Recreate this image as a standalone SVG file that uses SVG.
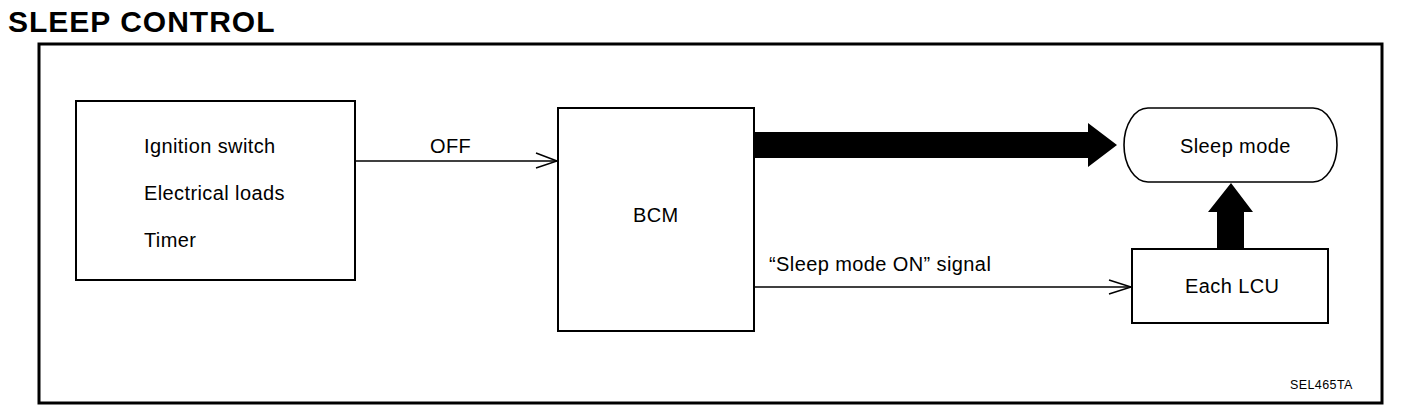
<svg xmlns="http://www.w3.org/2000/svg" width="1408" height="414" viewBox="0 0 1408 414">
<style>
.box{fill:#fff;stroke:#000;stroke-width:2}
.t{font-family:"Liberation Sans",Arial,sans-serif;font-size:20px;letter-spacing:0.4px;fill:#000}
.line{fill:none;stroke:#000;stroke-width:1.5}
.chev{fill:none;stroke:#000;stroke-width:1.5}
.fat{fill:#000;stroke:none}
</style>
<rect width="1408" height="414" fill="#fff"/>
<text x="8" y="32" font-family="'Liberation Sans',Arial,sans-serif" font-weight="bold" font-size="30" letter-spacing="1">SLEEP CONTROL</text>
<rect id="frame" x="39" y="44" width="1343" height="359" fill="none" stroke="#000" stroke-width="3"/>
<g id="connectors">
<line class="line" x1="355" y1="161" x2="557" y2="161"/>
<polyline class="chev" points="536,153 557,161 536,168"/>
<line class="line" x1="754" y1="287" x2="1131" y2="287" stroke-width="1.2"/>
<polyline class="chev" points="1109,280 1131,287 1109,294"/>
<polygon class="fat" points="754,132 1088,132 1088,123 1117,145 1088,167 1088,158 754,158"/>
<polygon class="fat" points="1217,249 1217,212 1208,212 1231,183 1253,212 1244,212 1244,249"/>
<text class="t" x="430" y="153">OFF</text>
<text class="t" x="769" y="271">“Sleep mode ON” signal</text>
</g>
<g id="inputs">
<rect class="box" x="76" y="101" width="279" height="179"/>
<text class="t" x="144" y="153">Ignition switch</text>
<text class="t" x="144" y="200">Electrical loads</text>
<text class="t" x="144" y="247">Timer</text>
</g>
<g id="bcm">
<rect class="box" x="558" y="108" width="196" height="223"/>
<text class="t" x="633" y="222">BCM</text>
</g>
<g id="sleep-mode">
<rect x="1124" y="108" width="213" height="74" rx="24" ry="37" fill="#fff" stroke="#000" stroke-width="1.6"/>
<text class="t" x="1180" y="153">Sleep mode</text>
</g>
<g id="each-lcu">
<rect class="box" x="1132" y="249" width="196" height="74" stroke-width="2.5"/>
<text class="t" x="1185" y="293">Each LCU</text>
</g>
<text x="1290" y="389" font-family="'Liberation Sans',Arial,sans-serif" font-size="12.5" letter-spacing="0.4">SEL465TA</text>
</svg>
